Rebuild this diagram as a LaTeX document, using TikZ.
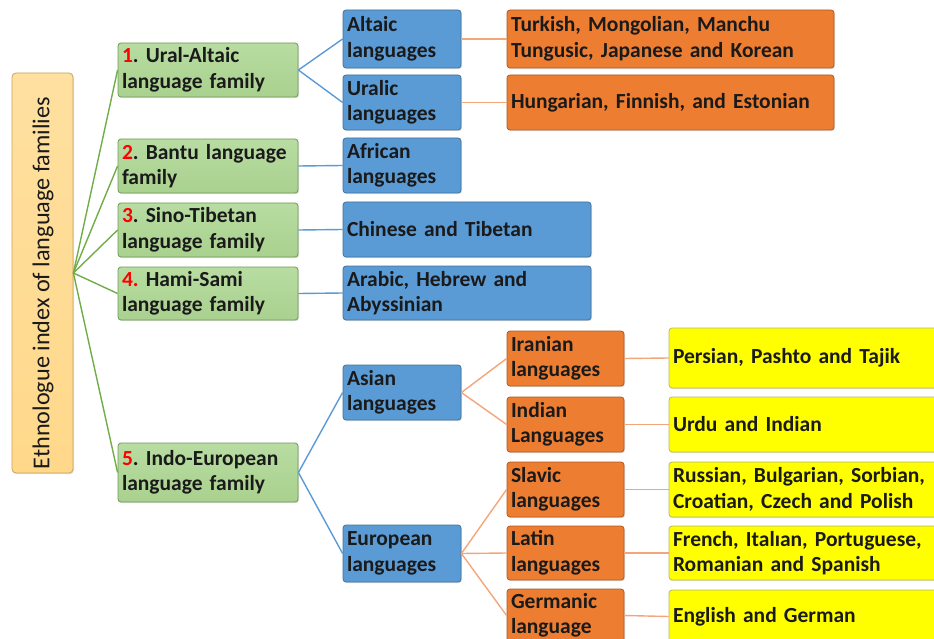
\documentclass[tikz,border=0pt]{standalone}
\usepackage{fontspec}
\setmainfont{Carlito}
\usetikzlibrary{shadows}
\definecolor{gfill}{HTML}{A9D18E}
\definecolor{gtop}{HTML}{B8DCA2}
\definecolor{gdraw}{HTML}{6F9A58}
\definecolor{bfill}{HTML}{5B9BD5}
\definecolor{bdraw}{HTML}{41719C}
\definecolor{ofill}{HTML}{ED7D31}
\definecolor{odraw}{HTML}{AE5A21}
\definecolor{yfill}{HTML}{FFFF00}
\definecolor{ydraw}{HTML}{B8B870}
\definecolor{rfill}{HTML}{FFD88A}
\definecolor{rtop}{HTML}{FFE0A0}
\definecolor{rdraw}{HTML}{C9A35E}
\definecolor{gline}{HTML}{70AD47}
\definecolor{bline}{HTML}{5B9BD5}
\definecolor{oline}{HTML}{F4A679}
\definecolor{txt}{HTML}{1A1A1A}
\definecolor{numred}{HTML}{FF0000}
\newcommand{\nr}[1]{\textcolor{numred}{#1}}
\frenchspacing
\begin{document}
\begin{tikzpicture}[x=1pt,y=-1pt,
  box/.style={rounded corners=3pt, inner sep=4pt, align=left, text=txt,
    font=\fontsize{21.5}{25.5}\selectfont\bfseries\frenchspacing, line width=0.8pt,
    drop shadow={opacity=0.25, shadow xshift=1pt, shadow yshift=-1.2pt}},
  gbox/.style={box, top color=gtop, bottom color=gfill, draw=gdraw},
  bbox/.style={box, fill=bfill, draw=bdraw},
  obox/.style={box, fill=ofill, draw=odraw},
  ybox/.style={box, fill=yfill, draw=ydraw},
  rootbox/.style={rounded corners=4pt, top color=rtop, bottom color=rfill, draw=rdraw, line width=0.8pt,
    drop shadow={opacity=0.25, shadow xshift=1pt, shadow yshift=-1.2pt}},
  gl/.style={draw=gline, line width=1.4pt},
  bl/.style={draw=bline, line width=1.4pt},
  ol/.style={draw=oline, line width=1.4pt},
]
\useasboundingbox (0,0) rectangle (934,639);
\clip (0,0) rectangle (934,639);
\newcommand{\bx}[8]{\node[#2, minimum width=#5pt, minimum height=#6pt, text width=#7pt] (#1) at (#3,#4) {#8};}
% root
\node[rootbox, minimum width=61pt, minimum height=400pt] (root) at (42.5,273) {};
\node[rotate=90, text=txt, font=\fontsize{24.2}{28}\selectfont] (roottext) at (43,283) {Ethnologue index of language families};
% green
\bx{g1}{gbox}{208}{70}{180}{54}{172}{\nr{1}. Ural-Altaic\\language family}
\bx{g2}{gbox}{208}{166}{180}{54}{172}{\nr{2}. Bantu language\\family}
\bx{g3}{gbox}{208}{230}{180}{54}{172}{\nr{3}. Sino-Tibetan\\language family}
\bx{g4}{gbox}{208}{293.5}{180}{53}{172}{\nr{4.} Hami-Sami\\language family}
\bx{g5}{gbox}{208}{472.5}{180}{59}{172}{\nr{5}. Indo-European\\language family}
% blue
\bx{altaic}{bbox}{402}{39}{118}{58}{110}{Altaic\\languages}
\bx{uralic}{bbox}{402}{102.5}{118}{55}{110}{Uralic\\languages}
\bx{african}{bbox}{402}{165.5}{118}{55}{110}{African\\languages}
\bx{chinese}{bbox}{467}{229.5}{248}{55}{240}{Chinese and Tibetan}
\bx{arabic}{bbox}{467}{293}{248}{54}{240}{Arabic, Hebrew and\\Abyssinian}
\bx{asian}{bbox}{402}{392.5}{118}{55}{110}{Asian\\languages}
\bx{european}{bbox}{402}{553.5}{118}{57}{110}{European\\languages}
% orange
\bx{turkish}{obox}{670.5}{39}{327}{58}{319}{Turkish, Mongolian, Manchu\\Tungusic, Japanese and Korean}
\bx{hungarian}{obox}{670.5}{102.5}{327}{55}{319}{Hungarian, Finnish, and Estonian}
\bx{iranian}{obox}{565.5}{358.5}{117}{55}{109}{Iranian\\languages}
\bx{indian}{obox}{565.5}{424.5}{117}{55}{109}{Indian\\Languages}
\bx{slavic}{obox}{565.5}{489.5}{117}{55}{109}{Slavic\\languages}
\bx{latin}{obox}{565.5}{553}{117}{54}{109}{Latin\\languages}
\bx{germanic}{obox}{565.5}{615.5}{117}{53}{109}{Germanic\\language}
% yellow
\bx{persian}{ybox}{809.5}{358}{281}{60}{273}{Persian, Pashto and Tajik}
\bx{urdu}{ybox}{809.5}{424.5}{281}{55}{273}{Urdu and Indian}
\bx{russian}{ybox}{809.5}{489.5}{281}{55}{273}{Russian, Bulgarian, Sorbian,\\Croatian, Czech and Polish}
\bx{french}{ybox}{809.5}{553}{281}{54}{273}{French, Italıan, Portuguese,\\Romanian and Spanish}
\bx{english}{ybox}{809.5}{616.5}{281}{53}{273}{English and German}
% connectors
\foreach \g in {g1,g2,g3,g4,g5} \draw[gl] (root.east) -- (\g.west);
\draw[bl] (g1.east) -- (altaic.west);
\draw[bl] (g1.east) -- (uralic.west);
\draw[bl] (g2.east) -- (african.west);
\draw[bl] (g3.east) -- (chinese.west);
\draw[bl] (g4.east) -- (arabic.west);
\draw[bl] (g5.east) -- (asian.west);
\draw[bl] (g5.east) -- (european.west);
\draw[ol] (altaic.east) -- (turkish.west);
\draw[ol] (uralic.east) -- (hungarian.west);
\draw[ol] (asian.east) -- (iranian.west);
\draw[ol] (asian.east) -- (indian.west);
\draw[ol] (european.east) -- (slavic.west);
\draw[ol] (european.east) -- (latin.west);
\draw[ol] (european.east) -- (germanic.west);
\draw[ol] (iranian.east) -- (persian.west);
\draw[ol] (indian.east) -- (urdu.west);
\draw[ol] (slavic.east) -- (russian.west);
\draw[ol] (latin.east) -- (french.west);
\draw[ol] (germanic.east) -- (english.west);
\end{tikzpicture}
\end{document}
